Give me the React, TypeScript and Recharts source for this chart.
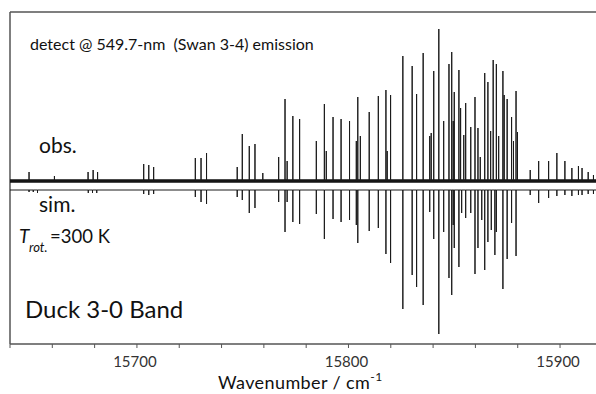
import React from 'react';
import { ComposedChart, Line, XAxis, YAxis, ReferenceLine } from 'recharts';

// Observed emission lines: [wavenumber (cm-1), intensity (arb.)]
const OBS_LINES: [number, number][] = [
  [15649.0, 9], [15661.0, 5], [15676.9, 9], [15679.3, 11], [15681.4, 9],
  [15703.2, 17], [15705.6, 16], [15707.9, 14],
  [15727.6, 23], [15730.3, 23], [15732.9, 28],
  [15747.4, 14], [15749.8, 47], [15753.1, 35], [15755.8, 37], [15759.5, 8],
  [15767.0, 24], [15770.0, 82], [15771.0, 20], [15773.7, 65], [15776.9, 62],
  [15784.8, 40], [15788.6, 77], [15789.5, 30], [15792.7, 64], [15796.5, 62],
  [15800.5, 60], [15803.7, 40], [15804.4, 84], [15805.6, 45], [15809.8, 69],
  [15814.1, 85], [15817.7, 91], [15818.3, 30], [15819.9, 86],
  [15825.7, 125], [15830.1, 115], [15832.2, 87], [15835.3, 128],
  [15838.4, 45], [15839.1, 48], [15840.3, 110], [15842.7, 152], [15845.0, 60],
  [15847.5, 117], [15848.8, 129], [15849.5, 60], [15850.0, 89], [15852.2, 111],
  [15853.0, 73], [15854.5, 46], [15855.4, 78], [15857.8, 54], [15859.8, 84],
  [15861.2, 53], [15862.3, 24], [15864.4, 108], [15865.9, 99], [15867.2, 50],
  [15868.4, 121], [15869.9, 117], [15871.0, 45], [15873.0, 110], [15873.6, 86],
  [15875.0, 82], [15877.1, 64], [15878.0, 40], [15879.2, 90], [15879.9, 49],
  [15885.9, 11], [15889.9, 20], [15894.6, 20], [15898.5, 28], [15902.3, 20],
  [15905.6, 13], [15908.7, 15], [15910.4, 13], [15913.3, 9], [15915.8, 6],
];

// Simulated lines: [wavenumber (cm-1), intensity (arb.)], plotted downward
const SIM_LINES: [number, number][] = [
  [15649.0, 2], [15651.0, 2], [15653.0, 3], [15677.0, 3], [15679.0, 3], [15681.0, 3],
  [15703.2, 4], [15705.6, 5], [15707.9, 4],
  [15727.6, 7], [15730.3, 12], [15732.9, 14],
  [15747.4, 7], [15749.8, 10], [15753.1, 23], [15755.8, 18],
  [15767.0, 12], [15770.0, 42], [15771.0, 12], [15773.7, 32], [15776.9, 34],
  [15784.8, 24], [15788.6, 49], [15792.7, 29], [15796.5, 32],
  [15800.5, 30], [15803.7, 35], [15804.4, 53], [15809.8, 41],
  [15814.1, 38], [15817.7, 64], [15819.9, 73],
  [15825.7, 119], [15830.1, 85], [15832.2, 97], [15835.3, 115],
  [15838.4, 22], [15840.3, 49], [15842.7, 144], [15845.0, 42],
  [15847.5, 88], [15848.8, 105], [15849.5, 35], [15850.0, 58], [15852.2, 77],
  [15853.5, 23], [15855.4, 28], [15857.8, 23], [15859.8, 84], [15861.2, 58],
  [15863.0, 30], [15864.4, 80], [15865.9, 52], [15867.5, 40], [15869.2, 65],
  [15869.9, 42], [15873.0, 99], [15875.0, 69], [15877.1, 33], [15879.2, 66],
  [15885.9, 5], [15889.9, 13], [15894.6, 8], [15898.5, 6], [15902.3, 5],
  [15905.6, 6], [15908.7, 5], [15910.4, 5], [15913.3, 4], [15915.8, 4],
];

const X_DOMAIN: [number, number] = [15640, 15917];
const X_TICKS = [15640, 15660, 15680, 15700, 15720, 15740, 15760, 15780, 15800, 15820, 15840, 15860, 15880, 15900];
const X_LABELS = [15700, 15800, 15900];
const Y_DOMAIN: [number, number] = [-163, 169];
const OBS_BASE = 0;
const SIM_BASE = -9;

const FONT = 'Lato, "Open Sans", sans-serif';

function spikes(lines: [number, number][], base: number, sign: number) {
  const sorted = [...lines].sort((a, b) => a[0] - b[0]);
  const pts: { w: number; v: number }[] = [{ w: X_DOMAIN[0], v: base }];
  sorted.forEach(([w, h]) => {
    pts.push({ w, v: base });
    pts.push({ w, v: base + sign * h });
    pts.push({ w, v: base });
  });
  pts.push({ w: X_DOMAIN[1], v: base });
  return pts;
}

const obsData = spikes(OBS_LINES, OBS_BASE, 1);
const simData = spikes(SIM_LINES, SIM_BASE, -1);

const Tick = (props: any) => {
  const { x, payload } = props;
  if (!X_LABELS.includes(payload.value)) return <g />;
  return (
    <text x={x - 2} y={367} textAnchor="middle" fontSize={15} fill="#333" fontFamily={FONT}>
      {payload.value}
    </text>
  );
};

export default function App() {
  return (
    <div style={{ position: 'absolute', left: 0, top: 0, width: 596, height: 394, background: '#fff', overflow: 'hidden' }}>
      <ComposedChart width={596} height={394} margin={{ top: 12, right: 0, left: 10, bottom: 0 }}>
        <XAxis
          dataKey="w"
          type="number"
          domain={X_DOMAIN}
          allowDataOverflow
          ticks={X_TICKS}
          interval={0}
          tick={<Tick />}
          tickSize={4}
          height={50}
          axisLine={{ stroke: '#555', strokeWidth: 1.5 }}
          tickLine={{ stroke: '#555' }}
        />
        <YAxis type="number" domain={Y_DOMAIN} allowDataOverflow hide />
        <ReferenceLine x={X_DOMAIN[0]} stroke="#555" strokeWidth={1.5} />
        <ReferenceLine y={Y_DOMAIN[1]} stroke="#555" strokeWidth={1.5} />
        <ReferenceLine y={OBS_BASE} stroke="#111" strokeWidth={3.5} />
        <Line data={obsData} dataKey="v" stroke="#1a1a1a" strokeWidth={1} dot={false} isAnimationActive={false} />
        <Line data={simData} dataKey="v" stroke="#1a1a1a" strokeWidth={1} dot={false} isAnimationActive={false} />
      </ComposedChart>
      <svg width={596} height={394} style={{ position: 'absolute', left: 0, top: 0, pointerEvents: 'none' }}>
        <g fontFamily={FONT} fill="#111">
          <text x={30} y={50} fontSize={16}>detect @ 549.7-nm{'\u00a0\u00a0'}(Swan 3-4) emission</text>
          <text x={39} y={153} fontSize={21}>obs.</text>
          <text x={39} y={212} fontSize={21}>sim.</text>
          <text x={19} y={243} fontSize={19} fontStyle="italic">T</text>
          <text x={29} y={252} fontSize={13} fontStyle="italic">rot.</text>
          <text x={50} y={243} fontSize={18.5}>=300 K</text>
          <text x={25} y={318} fontSize={24}>Duck 3-0 Band</text>
          <text x={218} y={389} fontSize={18} letterSpacing={0.4}>
            Wavenumber / cm<tspan dy={-8} fontSize={12}>-1</tspan>
          </text>
        </g>
      </svg>
    </div>
  );
}
